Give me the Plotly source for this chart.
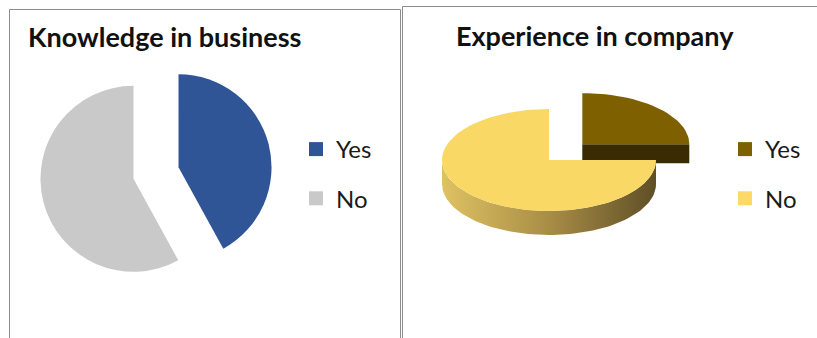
import math
import plotly.graph_objects as go

# ---- data ----
categories = ["Yes", "No"]
knowledge_values = [42, 58]
experience_values = [25, 75]
knowledge_colors = ["#2f5597", "#c9c9c9"]
experience_top_colors = ["#7f6000", "#f9d866"]
experience_side_colors = ["#3a2b02", "#3a2b02"]
experience_legend_colors = ["#7f6000", "#ffd966"]
wall_scale = [[0, "#dfc262"], [0.5, "#a88d47"], [1, "#5f4f26"]]

W, H = 817, 338
FONT = "Lato"

fig = go.Figure()

# ---- left: flat exploded pie ----
L_CX, L_CY, L_R, L_PULL = 156, 173, 93, 0.25
half = L_R * (1 + L_PULL)
fig.add_trace(go.Pie(
    labels=categories, values=knowledge_values, sort=False,
    direction="clockwise", rotation=0, pull=[L_PULL] * len(categories),
    marker=dict(colors=knowledge_colors, line=dict(width=0)),
    textinfo="none", showlegend=False,
    domain=dict(x=[(L_CX - half) / W, (L_CX + half) / W],
                y=[1 - (L_CY + half) / H, 1 - (L_CY - half) / H]),
))

# ---- right: 3D-looking exploded pie drawn on pixel axes ----
R_CX, R_CY, RX, RY, DEPTH, R_PULL = 549, 160, 107, 51, 24, 0.44
pulled = [True, False]


def pt(cx, cy, t, dz=0.0):
    return cx + RX * math.sin(t), cy - RY * math.cos(t) + dz


total = sum(experience_values)
slices = []
acc = 0.0
for i, v in enumerate(experience_values):
    a0 = 2 * math.pi * acc / total
    acc += v
    a1 = 2 * math.pi * acc / total
    mid = (a0 + a1) / 2
    e = R_PULL if pulled[i] else 0.0
    cx = R_CX + e * RX * math.sin(mid)
    cy = R_CY - e * RY * math.cos(mid)
    slices.append((i, a0, a1, cx, cy, cy - RY * math.cos(mid)))

# painter's order: back (small screen y) first
for i, a0, a1, cx, cy, _ in sorted(slices, key=lambda s: s[5]):
    depth = DEPTH * (0.8 if pulled[i] else 1.0)
    # radial faces
    for edge, visible in ((a0, math.sin(a0) < -1e-9), (a1, math.sin(a1) > 1e-9)):
        if visible:
            ex, ey = pt(cx, cy, edge)
            xs = [cx, ex, ex, cx, cx]
            ys = [cy, ey, ey + depth, cy + depth, cy]
            fig.add_trace(go.Scatter(x=xs, y=ys, mode="lines", fill="toself",
                                     fillcolor=experience_side_colors[i],
                                     line=dict(width=0), showlegend=False,
                                     hoverinfo="skip"))
    # outer wall (front half only)
    w0, w1 = max(a0, math.pi / 2), min(a1, 3 * math.pi / 2)
    if w1 > w0:
        n = 80
        ts = [w0 + (w1 - w0) * k / n for k in range(n + 1)]
        top = [pt(cx, cy, t) for t in ts]
        bot = [pt(cx, cy, t, depth) for t in reversed(ts)]
        poly = top + bot + [top[0]]
        fig.add_trace(go.Scatter(x=[p[0] for p in poly], y=[p[1] for p in poly],
                                 mode="lines", fill="toself",
                                 fillgradient=dict(type="horizontal", colorscale=wall_scale),
                                 line=dict(width=0), showlegend=False,
                                 hoverinfo="skip"))
    # top face
    n = max(8, int(120 * (a1 - a0) / (2 * math.pi)))
    ts = [a0 + (a1 - a0) * k / n for k in range(n + 1)]
    poly = [(cx, cy)] + [pt(cx, cy, t) for t in ts] + [(cx, cy)]
    fig.add_trace(go.Scatter(x=[p[0] for p in poly], y=[p[1] for p in poly],
                             mode="lines", fill="toself",
                             fillcolor=experience_top_colors[i],
                             line=dict(width=0), showlegend=False,
                             hoverinfo="skip"))

# ---- legend entries ----
for i, c in enumerate(categories):
    fig.add_trace(go.Scatter(x=[None], y=[None], mode="markers", name=c,
                             marker=dict(symbol="square", size=14, color=knowledge_colors[i]),
                             legend="legend", legendgroup="k" + c))
    fig.add_trace(go.Scatter(x=[None], y=[None], mode="markers", name=c,
                             marker=dict(symbol="square", size=14, color=experience_legend_colors[i]),
                             legend="legend2", legendgroup="e" + c))

legend_style = dict(font=dict(family=FONT, size=24, color="#1a1a1a"),
                    traceorder="grouped", tracegroupgap=15,
                    bgcolor="rgba(0,0,0,0)", xanchor="left", yanchor="top",
                    itemclick=False)

# ---- panel frames ----
frame = dict(color="#8c8c8c", width=1)
shapes = [
    dict(type="rect", xref="x", yref="y", x0=9.5, y0=9.5, x1=400.5, y1=345, line=frame),
    dict(type="rect", xref="x", yref="y", x0=402.5, y0=6.5, x1=830, y1=345, line=frame),
]

annotations = [
    dict(text="<b>Knowledge in business</b>", x=26, y=36, xref="x", yref="y",
         xanchor="left", yanchor="middle", showarrow=False,
         font=dict(family=FONT, size=27, color="#111111")),
    dict(text="<b>Experience in company</b>", x=454, y=35, xref="x", yref="y",
         xanchor="left", yanchor="middle", showarrow=False,
         font=dict(family=FONT, size=27, color="#111111")),
]

fig.update_layout(
    width=W, height=H, margin=dict(l=0, r=0, t=0, b=0),
    paper_bgcolor="white", plot_bgcolor="rgba(0,0,0,0)",
    xaxis=dict(range=[0, W], visible=False, fixedrange=True),
    yaxis=dict(range=[H, 0], visible=False, fixedrange=True),
    legend=dict(x=296 / W, y=1 - 127 / H, **legend_style),
    legend2=dict(x=725 / W, y=1 - 127 / H, **legend_style),
    shapes=shapes, annotations=annotations, showlegend=True,
)

fig.write_html("out.html")
